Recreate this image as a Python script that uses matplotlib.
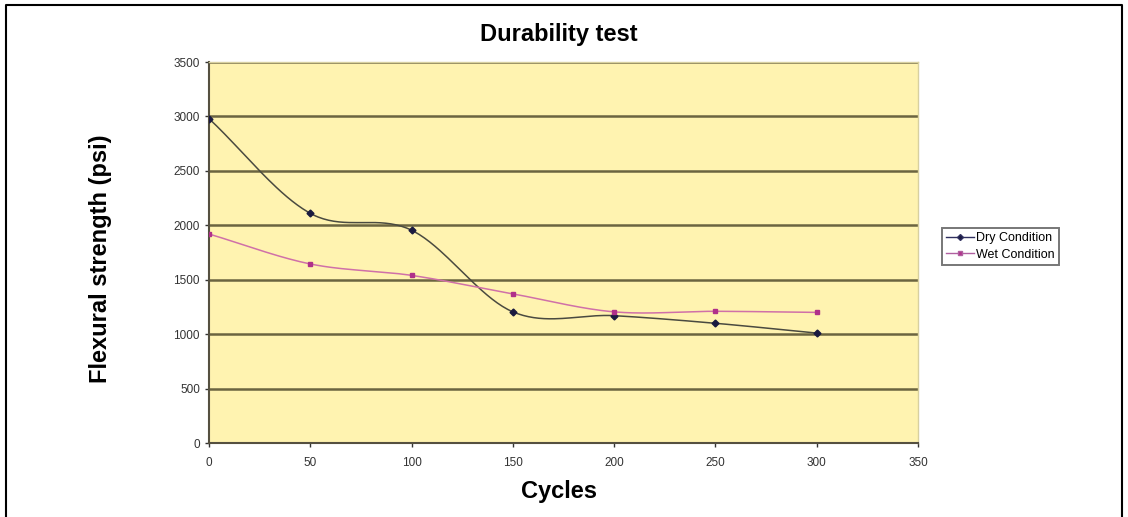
import numpy as np
import matplotlib
matplotlib.use("Agg")
import matplotlib.pyplot as plt
from matplotlib.lines import Line2D

plt.rcParams["font.family"] = ["Liberation Sans", "DejaVu Sans"]

cycles = [0, 50, 100, 150, 200, 250, 300]
dry = [2980, 2110, 1955, 1205, 1170, 1100, 1010]
wet = [1920, 1645, 1540, 1370, 1205, 1210, 1200]
xticks = [0, 50, 100, 150, 200, 250, 300, 350]
yticks = [0, 500, 1000, 1500, 2000, 2500, 3000, 3500]


def smooth(x, y, n=40):
    # Catmull-Rom spline through the data points (like Excel smoothed lines)
    x = np.asarray(x, float); y = np.asarray(y, float)
    px = np.concatenate([[2 * x[0] - x[1]], x, [2 * x[-1] - x[-2]]])
    py = np.concatenate([[2 * y[0] - y[1]], y, [2 * y[-1] - y[-2]]])
    xs, ys = [], []
    t = np.linspace(0, 1, n)
    for i in range(1, len(px) - 2):
        for arr, out in ((px, xs), (py, ys)):
            p0, p1, p2, p3 = arr[i - 1], arr[i], arr[i + 1], arr[i + 2]
            seg = 0.5 * ((2 * p1) + (-p0 + p2) * t + (2 * p0 - 5 * p1 + 4 * p2 - p3) * t ** 2
                         + (-p0 + 3 * p1 - 3 * p2 + p3) * t ** 3)
            out.extend(seg)
    return np.array(xs), np.array(ys)


fig = plt.figure(figsize=(11.28, 5.17), dpi=100)
ax = fig.add_axes([0.1853, 0.1431, 0.8138 - 0.1853, 0.880 - 0.1431])
ax.set_facecolor("#FFF3B0")
ax.set_xlim(0, 350)
ax.set_ylim(0, 3500)
ax.set_xticks(xticks)
ax.set_yticks(yticks)
ax.tick_params(labelsize=8.5, colors="#333333", length=3, width=1)
ax.tick_params(axis="x", pad=7)
for yv in yticks[1:]:
    ax.axhline(yv, color="#6B6440", lw=1.8, zorder=1)
for s in ["top", "right"]:
    ax.spines[s].set_color("#D8D0A0")
    ax.spines[s].set_linewidth(1)
for s in ["left", "bottom"]:
    ax.spines[s].set_color("#555040")
    ax.spines[s].set_linewidth(1.5)

dx, dy = smooth(cycles, dry)
wx, wy = smooth(cycles, wet)
ax.plot(dx, dy, color="#4A4A40", lw=1.1, zorder=3)
ax.plot(cycles, dry, ls="none", marker="D", ms=3.5, color="#1A1A40", zorder=4)
ax.plot(wx, wy, color="#D070A8", lw=1.1, zorder=3)
ax.plot(cycles, wet, ls="none", marker="s", ms=3.5, color="#B0308A", zorder=4)

handles = [Line2D([], [], color="#303060", lw=1, marker="D", ms=3, markerfacecolor="#1A1A40"),
           Line2D([], [], color="#B060A0", lw=1, marker="s", ms=3, markerfacecolor="#B0308A")]
leg = fig.legend(handles, ["Dry Condition", "Wet Condition"], loc="center left",
                 bbox_to_anchor=(0.835, 0.523), fontsize=9, frameon=True, fancybox=False,
                 edgecolor="#555555", handlelength=2.2, handletextpad=0.2, borderpad=0.35,
                 labelspacing=0.35, borderaxespad=0)
leg.get_frame().set_linewidth(1.4)

fig.text(0.495, 0.934, "Durability test", ha="center", va="center", fontsize=17, fontweight="bold")
fig.text(0.4955, 0.05, "Cycles", ha="center", va="center", fontsize=17, fontweight="bold")
fig.text(0.0887, 0.499, "Flexural strength (psi)", ha="center", va="center", rotation=90,
         fontsize=17, fontweight="bold")

# figure border (left, top, right)
fig.add_artist(Line2D([6 / 1128, 6 / 1128, 1122 / 1128, 1122 / 1128], [0, 1 - 5 / 517, 1 - 5 / 517, 0],
                      transform=fig.transFigure, color="black", lw=1.5))

fig.savefig("out.png", dpi=100)
